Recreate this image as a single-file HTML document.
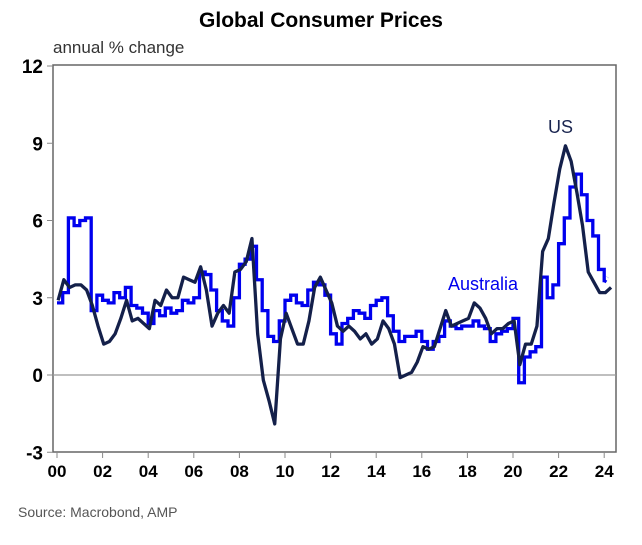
<!DOCTYPE html>
<html><head><meta charset="utf-8"><style>
body{margin:0;background:#fff;font-family:"Liberation Sans",sans-serif}
svg text{font-family:"Liberation Sans",sans-serif}
</style></head><body>
<svg id="c" width="642" height="540">
<text x="321" y="27" text-anchor="middle" font-size="21" font-weight="bold">Global Consumer Prices</text>
<text x="53" y="53" font-size="17" fill="#333">annual % change</text>
<text x="18" y="517" font-size="14" fill="#555">Source: Macrobond, AMP</text>
<rect x="53" y="65" width="563" height="387" fill="none" stroke="#666" stroke-width="1.5"/>
<g id="ax"></g><g id="ser"></g>
<text x="548" y="133" font-size="18" fill="#1a2550">US</text>
<text x="448" y="290" font-size="18" fill="#0000ee">Australia</text>
</svg>
<script>
const yTicks=[12,9,6,3,0,-3];
const xTickYears=[2000,2002,2004,2006,2008,2010,2012,2014,2016,2018,2020,2022,2024];
const xTickLabels=["00","02","04","06","08","10","12","14","16","18","20","22","24"];
const ausQuarterly=[2.8,3.2,6.1,5.8,6.0,6.1,2.5,3.1,2.9,2.8,3.2,3.0,3.4,2.7,2.6,2.4,2.0,2.5,2.3,2.6,2.4,2.5,2.9,2.8,3.0,4.0,3.9,3.3,2.5,2.1,1.9,3.0,4.3,4.5,5.0,3.7,2.5,1.5,1.3,2.1,2.9,3.1,2.8,2.7,3.3,3.6,3.5,3.1,1.6,1.2,2.0,2.2,2.5,2.4,2.2,2.7,2.9,3.0,2.3,1.7,1.3,1.5,1.5,1.7,1.3,1.0,1.3,1.5,2.1,1.9,1.8,1.9,1.9,2.1,1.9,1.8,1.3,1.6,1.7,1.8,2.2,-0.3,0.7,0.9,1.1,3.8,3.0,3.5,5.1,6.1,7.3,7.8,7.0,6.0,5.4,4.1];
const ausLatest=[3.6,3.8];
const usQuarterly=[2.9,3.7,3.4,3.5,3.5,3.3,2.7,1.9,1.2,1.3,1.6,2.2,2.9,2.1,2.2,2.0,1.8,2.9,2.7,3.3,3.0,3.0,3.8,3.7,3.6,4.2,3.3,1.9,2.4,2.7,2.4,4.0,4.1,4.4,5.3,1.6,-0.2,-1.0,-1.9,1.4,2.4,1.8,1.2,1.2,2.1,3.4,3.8,3.3,2.8,1.9,1.7,1.9,1.7,1.4,1.6,1.2,1.4,2.1,1.8,1.2,-0.1,0.0,0.1,0.5,1.1,1.0,1.1,1.8,2.5,1.9,2.0,2.1,2.2,2.8,2.6,2.2,1.6,1.8,1.8,2.0,2.1,0.4,1.2,1.2,1.9,4.8,5.3,6.7,8.0,8.9,8.3,7.1,5.8,4.0,3.6,3.2,3.2,3.4];
const X=y=>57+(y-2000)*22.8, Y=v=>375-v*25.75;
const NS="http://www.w3.org/2000/svg";
const ax=document.getElementById('ax'),ser=document.getElementById('ser');
function mk(t,a,p){const e=document.createElementNS(NS,t);for(const k in a)e.setAttribute(k,a[k]);p.appendChild(e);return e;}
yTicks.forEach(v=>{
 const t=mk('text',{x:43,y:Y(v)+7,'text-anchor':'end','font-size':19,'font-weight':'bold'},ax);t.textContent=v;
 
 
 const l=mk('line',{x1:47,x2:53,y1:Y(v),y2:Y(v),stroke:'#888'},ax);
 
 
});
const z=mk('line',{x1:53,x2:616,y1:Y(0),y2:Y(0),stroke:'#999','stroke-width':1.3},ax);


xTickYears.forEach((yr,i)=>{
 const t=mk('text',{x:X(yr),y:477,'text-anchor':'middle','font-size':17,'font-weight':'bold'},ax);t.textContent=xTickLabels[i];
 
 
 const l=mk('line',{x1:X(yr),x2:X(yr),y1:452,y2:458,stroke:'#888'},ax);
 
 
});
let d='';ausQuarterly.forEach((v,i)=>{const x0=X(2000+i/4),x1=X(2000+(i+1)/4);d+=(i?'L':'M')+x0+','+Y(v)+'L'+x1+','+Y(v);});
const n=ausQuarterly.length;d+='L'+X(2000+n/4)+','+Y(ausLatest[0]);
const au=mk('path',{d:d,fill:'none',stroke:'#0000ee','stroke-width':3.3},ser);


const ad=mk('path',{d:'M'+X(2000+n/4)+','+Y(ausLatest[0])+'L'+X(2000+(n+0.6)/4)+','+Y(ausLatest[1]),fill:'none',stroke:'#0000ee','stroke-width':3.3,'stroke-dasharray':'3,3'},ser);


let u='';usQuarterly.forEach((v,i)=>{u+=(i?'L':'M')+X(2000+i/4+0.05)+','+Y(v);});
const us=mk('path',{d:u,fill:'none',stroke:'#14204a','stroke-width':3.3,'stroke-linejoin':'round'},ser);


</script>
</body></html>
